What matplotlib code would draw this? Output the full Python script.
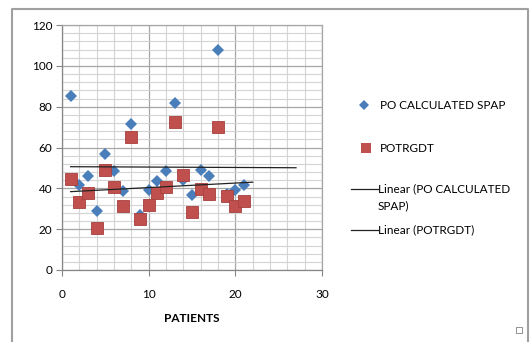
import numpy as np
import matplotlib
matplotlib.use("Agg")
import matplotlib.pyplot as plt
from matplotlib.lines import Line2D
from matplotlib.patches import Rectangle
from matplotlib.ticker import MultipleLocator

plt.rcParams['font.family'] = ['Lato', 'DejaVu Sans']

# patient index
patients = list(range(1, 22))
# PO calculated SPAP values
spap = [85.3, 41.4, 46.1, 28.9, 56.7, 48.6, 38.8, 71.7, 27.0, 39.0, 43.5,
        48.6, 81.7, 44.2, 36.8, 48.8, 46.1, 107.8, 37.0, 39.0, 41.4]
# POTRGDT values
potrgdt = [44.7, 33.4, 37.7, 20.5, 48.8, 40.6, 31.5, 64.9, 24.8, 31.6, 37.7,
           40.6, 72.6, 46.5, 28.2, 39.6, 37.2, 69.8, 36.4, 31.5, 33.8]

blue = '#4A7EBB'
red = '#C0504D'

fig = plt.figure(figsize=(5.31, 3.42), dpi=100)
ax = fig.add_axes([62 / 531, 1 - 270 / 342, 260 / 531, 245 / 342])

# grid
ax.set_xlim(0, 30)
ax.set_ylim(0, 120)
ax.xaxis.set_major_locator(MultipleLocator(10))
ax.xaxis.set_minor_locator(MultipleLocator(2))
ax.yaxis.set_major_locator(MultipleLocator(20))
ax.yaxis.set_minor_locator(MultipleLocator(4))
ax.grid(which='major', color='#A6A6A6', linewidth=0.9)
ax.grid(which='minor', color='#D4D4D4', linewidth=0.8)
ax.set_axisbelow(True)
for s in ['top', 'right']:
    ax.spines[s].set_color('#A6A6A6')
    ax.spines[s].set_linewidth(0.9)
for s in ['left', 'bottom']:
    ax.spines[s].set_color('#868686')
    ax.spines[s].set_linewidth(0.9)
ax.tick_params(which='major', length=4, color='#868686', labelsize=8.5, pad=3)
ax.tick_params(axis='x', which='major', pad=10)
ax.tick_params(which='minor', length=0)

# scatter series
ax.plot(patients, spap, 'D', color=blue, markersize=6, markeredgewidth=0, clip_on=False, zorder=3)
ax.plot(patients, potrgdt, 's', color=red, markersize=8, markeredgecolor='#A8403D',
        markeredgewidth=0.6, clip_on=False, zorder=4)

# linear trendlines
x = np.array(patients)
b1 = np.polyfit(x, spap, 1)
t1 = np.array([1, 27])
ax.plot(t1, np.polyval(b1, t1), color='#222222', linewidth=0.9, zorder=5)
b2 = np.polyfit(x, potrgdt, 1)
t2 = np.array([1, 22])
ax.plot(t2, np.polyval(b2, t2), color='#222222', linewidth=0.9, zorder=5)

ax.set_xlabel('PATIENTS', fontsize=8.5, fontweight='bold', labelpad=9)

# legend
def fx(px):
    return px / 531

def fy(py):
    return 1 - py / 342

fs = 8.5
fig.add_artist(Line2D([fx(364)], [fy(105)], marker='D', color=blue, markersize=5.5, markeredgewidth=0))
fig.text(fx(380), fy(105), 'PO CALCULATED SPAP', fontsize=fs, va='center')
fig.add_artist(Line2D([fx(366)], [fy(148)], marker='s', color=red, markersize=7.5, markeredgewidth=0))
fig.text(fx(380), fy(148), 'POTRGDT', fontsize=fs, va='center')
fig.add_artist(Line2D([fx(351), fx(378)], [fy(189), fy(189)], color='#222222', linewidth=0.9))
fig.text(fx(378), fy(189), 'Linear (PO CALCULATED', fontsize=fs, va='center')
fig.text(fx(378), fy(206), 'SPAP)', fontsize=fs, va='center')
fig.add_artist(Line2D([fx(351), fx(378)], [fy(230), fy(230)], color='#222222', linewidth=0.9))
fig.text(fx(378), fy(230), 'Linear (POTRGDT)', fontsize=fs, va='center')

# outer chart frame and corner handle
fig.add_artist(Line2D([fx(12), fx(12), fx(528), fx(528)], [0, fy(9), fy(9), 0],
                      color='#A0A0A0', linewidth=1.5))
fig.add_artist(Rectangle((fx(516), fy(333)), 6 / 531, 6 / 342, fill=False,
                         edgecolor='#909090', linewidth=0.7))

fig.savefig('out.png', dpi=100)
